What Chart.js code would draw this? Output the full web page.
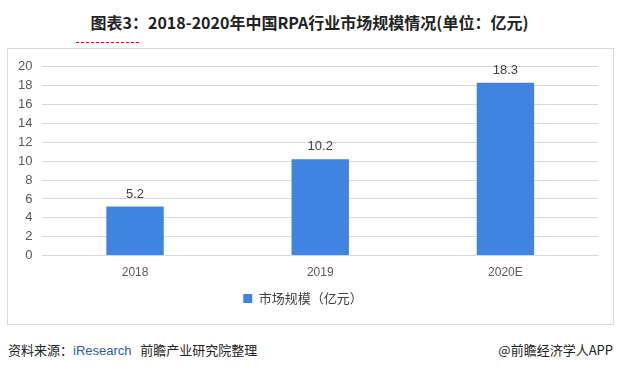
<!DOCTYPE html>
<html><head><meta charset="utf-8">
<script src="https://cdn.jsdelivr.net/npm/chart.js@4/dist/chart.umd.min.js"></script>
<style>
html,body{margin:0;padding:0;background:#fff;width:619px;height:371px;overflow:hidden;font-family:"Noto Sans CJK SC","Microsoft YaHei",sans-serif;}
#title{position:absolute;left:0;width:619px;top:10px;text-align:center;font-size:16px;font-weight:bold;color:#222;line-height:24px;}
#redline{position:absolute;left:76px;top:42px;width:63px;border-top:1px dashed #e00;}
#box{position:absolute;left:7px;top:48px;width:605px;height:275px;border:1px solid #d9d9d9;}
#src{position:absolute;left:8px;top:340px;font-size:13px;color:#222;line-height:20px;}
#src .en{color:#2e5aa8;font-family:"Liberation Sans",Arial,sans-serif;}
#app{position:absolute;right:6px;top:340px;font-size:13px;color:#222;line-height:20px;}
</style></head>
<body>
<div id="title">图表3：2018-2020年中国RPA行业市场规模情况(单位：亿元)</div>
<div id="redline"></div>
<div id="box"><canvas id="c" width="605" height="275"></canvas></div>
<div id="src">资料来源：<span class="en">iResearch</span>&nbsp;&nbsp; 前瞻产业研究院整理</div>
<div id="app">@前瞻经济学人APP</div>
<script>
const categories = ["2018", "2019", "2020E"];
const marketSize = [5.2, 10.2, 18.3];
const seriesName = "市场规模（亿元）";
const yTicks = [0, 2, 4, 6, 8, 10, 12, 14, 16, 18, 20];

const valueLabels = {
  id: 'valueLabels',
  afterDatasetsDraw(chart) {
    const ctx = chart.ctx;
    const meta = chart.getDatasetMeta(0);
    ctx.save();
    ctx.font = '13px "Liberation Sans", "DejaVu Sans", sans-serif';
    ctx.fillStyle = '#404040';
    ctx.textAlign = 'center';
    ctx.textBaseline = 'bottom';
    meta.data.forEach((bar, i) => {
      ctx.fillText(marketSize[i].toFixed(1), bar.x, bar.y - 6);
    });
    ctx.restore();
  }
};

new Chart(document.getElementById('c'), {
  type: 'bar',
  data: {
    labels: categories,
    datasets: [{
      label: seriesName,
      data: marketSize,
      backgroundColor: '#3f84e0',
      categoryPercentage: 1.0,
      barPercentage: 0.31
    }]
  },
  options: {
    responsive: false,
    animation: false,
    layout: { padding: { left: 0, right: 15, top: 7, bottom: 9 } },
    plugins: {
      legend: {
        position: 'bottom',
        labels: {
          boxWidth: 9, boxHeight: 9, padding: 10,
          color: '#404040',
          font: { size: 13, family: '"Noto Sans CJK SC", sans-serif' }
        }
      },
      tooltip: { enabled: false }
    },
    scales: {
      x: {
        grid: { display: false },
        border: { display: true, color: '#d9d9d9' },
        ticks: { color: '#595959', font: { size: 12, family: '"Liberation Sans", sans-serif' }, padding: 2 }
      },
      y: {
        min: 0, max: 20,
        afterBuildTicks(axis) { axis.ticks = yTicks.map(v => ({ value: v })); },
        grid: { color: '#d9d9d9', drawTicks: false },
        border: { display: false },
        ticks: { color: '#595959', autoSkip: false, font: { size: 13, family: '"Liberation Sans", sans-serif' }, padding: 10 }
      }
    }
  },
  plugins: [valueLabels]
});
</script>
</body></html>
